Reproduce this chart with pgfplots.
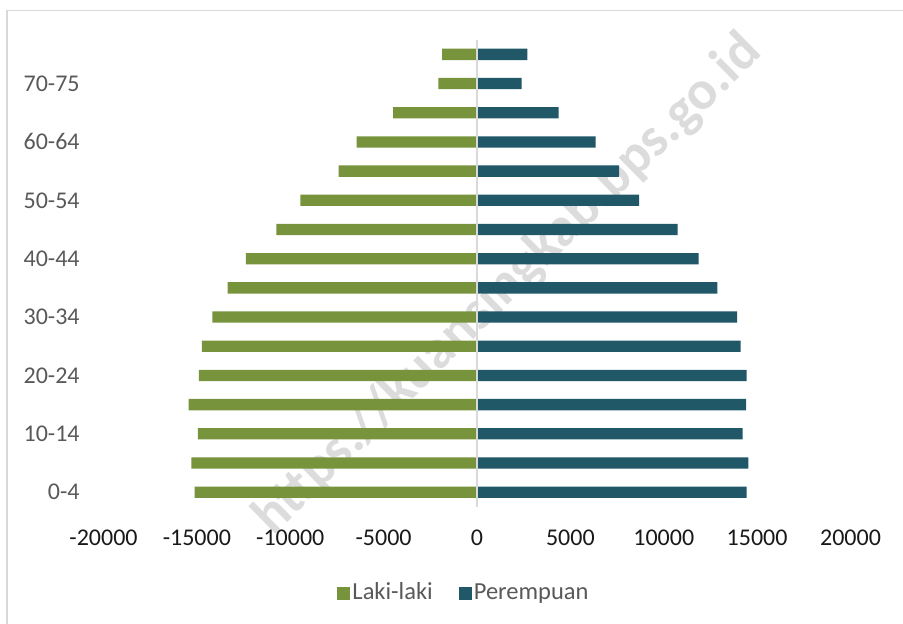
\documentclass[border=0pt]{standalone}
\usepackage{pgfplots}
\pgfplotsset{compat=1.18}
\usepackage{fontspec}
\setmainfont{Carlito}
\definecolor{lakiGreen}{HTML}{77933C}
\definecolor{perTeal}{HTML}{215868}
\definecolor{lblGray}{HTML}{595959}
\definecolor{lineGray}{HTML}{D9D9D9}
\definecolor{wmGray}{HTML}{DCDCDC}

% age groups from 0-4 (y=0) up to 75+ (y=15)
\pgfplotstableread{
y  laki    perempuan
0  -15117  14442
1  -15299  14528
2  -14940  14228
3  -15439  14405
4  -14887  14442
5  -14726  14121
6  -14175  13923
7  -13350  12868
8  -12370  11872
9  -10748  10748
10 -9462   8675
11 -7406   7604
12 -6442   6356
13 -4498   4375
14 -2072   2394
15 -1874   2694
}\pyramid

\begin{document}
\fontsize{24bp}{28bp}\selectfont
\begin{tikzpicture}
\path[use as bounding box] (0,0) rectangle (903bp,624bp);
\draw[lineGray, line width=1.3bp] (7bp,0) -- (7bp,613.3bp) -- (903bp,613.3bp);
% watermark sits behind the bars
\node[rotate=44.5, text=wmGray, font=\fontsize{55bp}{60bp}\selectfont\bfseries]
    at (508bp,339bp) {https://kuansingkab.bps.go.id};
\begin{axis}[
    at={(103.5bp,117.2bp)}, anchor=south west,
    width=747bp, height=467bp, scale only axis,
    xmin=-20000, xmax=20000,
    ymin=-0.5, ymax=15.5,
    scaled x ticks=false,
    xtick={-20000,-15000,-10000,-5000,0,5000,10000,15000,20000},
    xticklabels={-20000,-15000,-10000,-5000,0,5000,10000,15000,20000},
    ytick={0,2,4,6,8,10,12,14},
    yticklabels={0-4,10-14,20-24,30-34,40-44,50-54,60-64,70-75},
    major tick length=0pt,
    axis line style={draw=none},
    xticklabel style={font=\fontsize{24bp}{28bp}\selectfont, text=black!90, yshift=-15bp},
    yticklabel style={font=\fontsize{24bp}{28bp}\selectfont, text=lblGray, xshift=-15.7bp},
    xbar, bar width=11.3bp,
    legend columns=2,
    legend style={draw=none, at={(0.4826,-0.185)}, anchor=center,
        font=\fontsize{24.5bp}{28bp}\selectfont, text=lblGray,
        /tikz/every even column/.append style={column sep=24bp},
        inner sep=0pt},
    legend image code/.code={\draw[#1, draw=none] (0bp,-6.5bp) rectangle (13bp,6.5bp);},
]
\addplot[fill=lakiGreen, draw=none, bar shift=0pt] table[x=laki, y=y] {\pyramid};
\addplot[fill=perTeal, draw=none, bar shift=0pt] table[x=perempuan, y=y] {\pyramid};
\legend{Laki-laki, Perempuan}
\draw[lineGray, line width=1.8bp] (axis cs:0,-0.5) -- (axis cs:0,15.5);
\end{axis}
\end{tikzpicture}
\end{document}
